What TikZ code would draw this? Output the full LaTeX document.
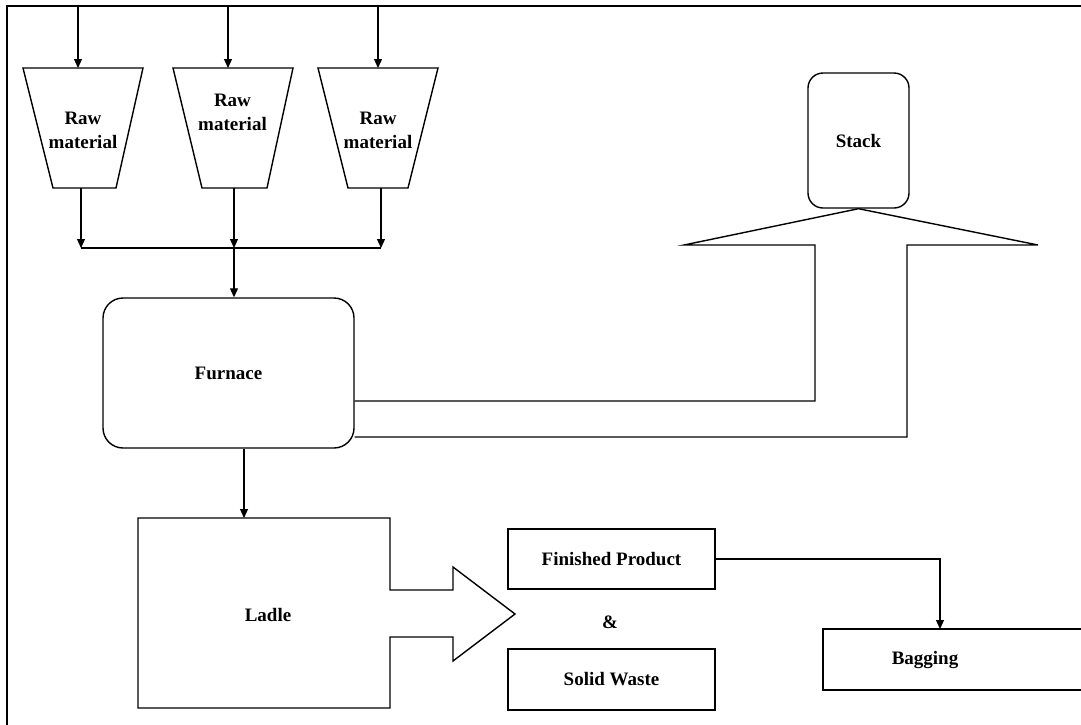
\documentclass[tikz,border=0pt]{standalone}
\usepackage{fontspec}
\setmainfont{Liberation Serif}
\usetikzlibrary{arrows.meta}
\begin{document}
\begin{tikzpicture}[x=1pt,y=-1pt,
  shp/.style={draw, line width=1.4pt},
  lbl/.style={font=\bfseries\fontsize{19}{24}\selectfont, align=center, inner sep=0pt},
  conn/.style={line width=1.1pt},
  arr/.style={conn, -{Triangle[width=8pt,length=9pt]}},
  boxnode/.style={shp, lbl, minimum width=207pt, minimum height=60pt}
]
\useasboundingbox (0,0) rectangle (1081,724);
\draw[line width=2pt] (7,740) -- (7,6) -- (1100,6);

% hoppers
\draw[shp] (23,68) -- (143,68) -- (116,188) -- (53,188) -- cycle;
\draw[shp] (173,68) -- (293,68) -- (267,188) -- (202,188) -- cycle;
\draw[shp] (318,68) -- (438,68) -- (408,188) -- (348,188) -- cycle;
\node[lbl] (h1) at (83,130) {Raw\\material};
\node[lbl] (h2) at (232.5,112) {Raw\\material};
\node[lbl] (h3) at (378,130) {Raw\\material};

\coordinate (in1) at (78,7);   \coordinate (top1) at (78,68);
\coordinate (in2) at (228,7);  \coordinate (top2) at (228,68);
\coordinate (in3) at (378,7);  \coordinate (top3) at (378,68);
\coordinate (bot1) at (81,188);  \coordinate (m1) at (81,248);
\coordinate (bot2) at (234,188); \coordinate (m2) at (234,248);
\coordinate (bot3) at (381,188); \coordinate (m3) at (381,248);

\draw[arr] (in1) -- (top1);
\draw[arr] (in2) -- (top2);
\draw[arr] (in3) -- (top3);
\draw[arr] (bot1) -- (m1);
\draw[arr] (bot2) -- (m2);
\draw[arr] (bot3) -- (m3);
\draw[conn] (m1) -- (m3);

% furnace
\node[shp, lbl, rounded corners=20pt, minimum width=251pt, minimum height=150pt] (furnace) at (228.5,373) {Furnace};
\draw[arr] (m2) -- (furnace.north -| m2);

% stack
\node[shp, lbl, rounded corners=15pt, minimum width=101pt, minimum height=135pt] (stack) at (858.5,140.5) {Stack};
\coordinate (dl) at (684,245);
\coordinate (dli) at (815,245);
\coordinate (dr) at (1038,245);
\coordinate (dri) at (907,245);
\draw[shp] (furnace.east |- 0,401) -- (815,401) -- (dli) -- (dl) -- (stack.south) -- (dr) -- (dri) -- (907,437) -- (furnace.east |- 0,437);

% ladle
\coordinate (ladleIn) at (244,518);
\draw[arr] (furnace.south -| ladleIn) -- (ladleIn);
\draw[shp] (138,518) -- (390,518) -- (390,590) -- (453,590) -- (453,567) -- (515,614)
  -- (453,661) -- (453,637) -- (390,637) -- (390,708) -- (138,708) -- cycle;
\node[lbl] (ladle) at (268,615) {Ladle};

% products
\node[boxnode] (fp) at (611.5,559) {Finished Product};
\node[lbl] (amp) at (610,622) {\&};
\node[boxnode, minimum height=61pt] (sw) at (611.5,679.5) {Solid Waste};

% bagging
\draw[shp] (823,629) rectangle (1100,690);
\node[lbl] (bag) at (925,660) {Bagging};
\coordinate (bagIn) at (940,629);
\draw[arr] (fp.east) -| (bagIn);
\end{tikzpicture}
\end{document}
